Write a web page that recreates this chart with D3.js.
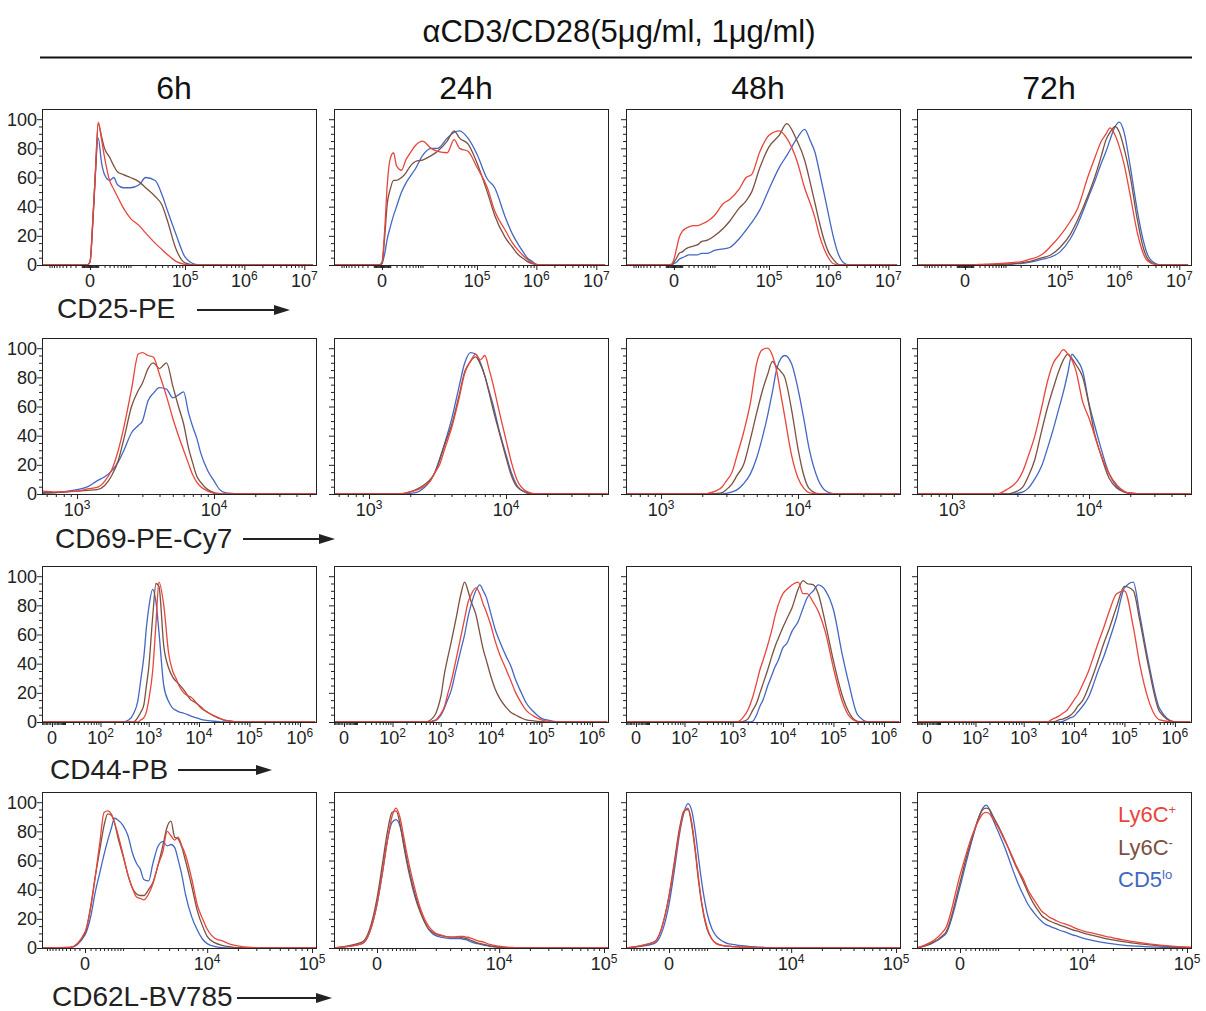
<!DOCTYPE html>
<html>
<head>
<meta charset="utf-8">
<script src="https://cdn.jsdelivr.net/npm/d3@7"></script>
<style>
  body { margin: 0; background: #fff; }
  svg { display: block; font-family: "Liberation Sans", Arial, sans-serif; }
  .frame { fill: none; stroke: #222; stroke-width: 1; }
  .axis path { display: none; }
  .axis line { stroke: #222; }
  .curve { fill: none; stroke-width: 1.3; stroke-linejoin: round; }
</style>
</head>
<body>
<svg id="chart" width="1206" height="1011"></svg>
<script>
const title = 'αCD3/CD28(5μg/ml, 1μg/ml)';
const timepoints = ['6h', '24h', '48h', '72h'];
const markers = ['CD25-PE', 'CD69-PE-Cy7', 'CD44-PB', 'CD62L-BV785'];
const groups = [['Ly6C', '+'], ['Ly6C', '-'], ['CD5', 'lo']];
const yLabels = [0, 20, 40, 60, 80, 100];

// x positions (fluorescence) shared by every curve of a row
const cd25Grid = [-14000, -3000, -1000, -300, 0, 300, 600, 1000, 1500, 2000, 3000, 4000, 5000, 7000, 1e4, 1.5e4, 2e4, 3e4, 4e4, 5e4, 7e4, 1e5, 1.5e5, 2e5, 3e5, 4e5, 5e5, 6e5, 7e5, 8.5e5, 1e6, 1.2e6, 1.5e6, 2e6, 2.5e6, 3e6, 4e6, 5e6, 1.4e7];
const cd69Grid = [560, 700, 1000, 1200, 1400, 1600, 1800, 2000, 2200, 2500, 2800, 3000, 3300, 3600, 4000, 4500, 5000, 5500, 6000, 6500, 7000, 7500, 8000, 9000, 10000, 11000, 12000, 14000, 16000, 18000, 20000, 25000, 30000, 55000];
const cd44Grid = [-7, 0, 50, 100, 200, 300, 400, 500, 600, 700, 800, 900, 1000, 1200, 1400, 1600, 2000, 2500, 3000, 3500, 4000, 5000, 6000, 7000, 8000, 10000, 12000, 15000, 20000, 25000, 30000, 40000, 50000, 70000, 100000, 150000, 200000, 300000, 500000, 1000000, 2000000];
const cd62lGrid = [-1200, -300, 0, 100, 200, 300, 400, 500, 600, 700, 800, 1000, 1200, 1400, 1600, 1800, 2000, 2300, 2600, 3000, 3400, 3800, 4200, 4600, 5000, 5500, 6000, 7000, 8000, 9000, 10000, 12000, 14000, 17000, 20000, 25000, 30000, 40000, 60000, 109000];

// % of max, one list per time point (6h, 24h, 48h, 72h)
const cd25Ly6cPos = [
  [0,0,0,0,2,30,62,98,86,74,58,52,47,39,32,27,22,15,10.5,7,2.5,0.5,0,0,0,0,0,0,0,0,0,0,0,0,0,0,0,0,0],
  [0,0,0,0,2,25,55,73,77,68,65,72,76,82,85,80,78,77,86,80,78,67,53,37,24,15,10,6.5,4,1.5,0.5,0,0,0,0,0,0,0,0],
  [0,0,0,0.5,4,12,19,23,25,26,27,27,28,30,34,42,45,52,60,62,78,89,92,87,71,53,42,32,21,11,5,1,0,0,0,0,0,0,0],
  [0,0,0,0,0,0,0,0,0.3,0.4,0.5,0.6,0.8,1,1.2,1.8,2.2,4,5.5,7.5,13,20,30,39,61,75,85,90,94,89,81,69,49,22,8,2.5,0.3,0,0]
];
const cd25Ly6cNeg = [
  [0,0,0,0,2,28,60,97,88,80,74,68,64,62,60,57,53,47,41,30,11,1.5,0,0,0,0,0,0,0,0,0,0,0,0,0,0,0,0,0],
  [0,0,0,0,1,20,42,52,58,58,60,63,67,71,72,75,78,85,92,87,83,70,50,34,19,12,7,4.5,2.5,1,0.3,0,0,0,0,0,0,0,0],
  [0,0,0,0,2,5,8,9,11,12,13,14,16,17,20,25,30,39,44,50,67,81,89,97,85,72,56,42,30,17,9,4,0.3,0,0,0,0,0,0],
  [0,0,0,0,0,0,0,0,0,0,0,0,0.3,0.5,0.7,1,1.5,2.5,4,5,7,12,21,31,48,62,75,86,91,95,91,80,62,31,12,4,0.5,0,0]
];
const cd25Cd5lo = [
  [0,0,0,0,2,30,62,87,70,62,58,60,55,53,53,55,60,58,48,37,21,5.5,0.5,0,0,0,0,0,0,0,0,0,0,0,0,0,0,0,0],
  [0,0,0,0,1,8,18,26,34,40,50,56,60,66,75,80,80,87,91,92,87,76,59,53,33,21,14,9,5,2.5,0.5,0,0,0,0,0,0,0,0],
  [0,0,0,0,1,2,4,5,6,7,7,7,8,8,10,11,12,18,24,29,38,52,67,75,87,93,85,77,65,49,35,20,6.5,0.5,0,0,0,0,0],
  [0,0,0,0,0,0,0,0,0,0,0,0,0,0,0,0.8,1,2,3,4,5.5,9,18,28,46,59,70,78,86,95,98,91,69,37,17,6.5,1,0,0]
];

const cd69Ly6cPos = [
  [2,1.5,2,3.5,4.5,9,17,30,46,72,96,97,95,94,82,67,52,40,30,21,13,8,5,2,0.5,0,0,0,0,0,0,0,0,0],
  [0,0,0,0,0,0,0.5,1.5,2.5,5,9,14,21,32,45,64,83,91,96,92,95,86,76,55,37,21,10,2,0.3,0,0,0,0,0],
  [0,0,0,0,0,0,0,0,0.5,2,5,9,15,27,42,63,90,99,100,95,84,68,53,26,11,4,1,0,0,0,0,0,0,0],
  [0,0,0,0,0,0,0,0,0.3,3,6,9,16,26,39,59,78,90,95,99,96,92,85,63,52,40,29,14,6,2,0.5,0,0,0]
];
const cd69Ly6cNeg = [
  [1,1,2,2.5,3,6,13,23,38,60,71,76,86,90,86,90,74,60,48,32,21,12,8,3,1,0.3,0,0,0,0,0,0,0,0],
  [0,0,0,0,0,0,0.5,1.5,3,6,10,14,24,35,47,66,84,91,94,89,81,70,59,41,25,12,5,1,0,0,0,0,0,0],
  [0,0,0,0,0,0,0,0,0,0.3,1,3,7,13,20,38,56,71,82,91,87,84,80,57,31,13,4,0.3,0,0,0,0,0,0],
  [0,0,0,0,0,0,0,0,0,0,1,2,5,12,23,43,60,73,84,92,96,93,89,80,61,41,29,11,4,1.5,0.5,0,0,0]
];
const cd69Cd5lo = [
  [0.5,1,3,5,9,12,16,22,30,42,47,50,64,69,73,72,66,68,70,56,46,38,28,16,9,3,1,0.3,0,0,0,0,0,0],
  [0,0,0,0,0,0,0,0.5,1,4,9,14,25,36,51,72,90,97,96,90,81,71,62,42,27,14,6,1,0,0,0,0,0,0],
  [0,0,0,0,0,0,0,0,0,0,0,0.5,1.5,3,7,14,25,39,54,70,86,93,95,89,72,52,32,10,2,0.3,0,0,0,0],
  [0,0,0,0,0,0,0,0,0,0,0,0.5,1.5,4,10,19,32,45,58,70,83,96,93,84,62,47,34,14,5,1.5,0.5,0,0,0]
];

const cd44Ly6cPos = [
  [0,0,0,0,0,0,0,0,0,1.5,3,7,15,35,68,96,80,47,35,30,25,20,18,17,15,11,8.5,6.5,4.3,2.8,1.7,0.7,0.3,0,0,0,0,0,0,0,0],
  [0,0,0,0,0,0,0,0,0,1,1.5,3.5,5.5,11,20,27,42,58,71,82,87,92,88,81,76,66,56,46,36,28,21,13,8,4,1.5,0.3,0,0,0,0,0],
  [0,0,0,0,0,0,0,0,0,0,0,0,0,0,1,3,8,17,27,36,42,53,63,73,80,88,91,94,96,88,88,82,76,61,37,14,4.5,0.3,0,0,0],
  [0,0,0,0,0,0,0,0,0,0,0,0,0,0,0,0,0,0,0,1.5,2.5,4,6,7.5,10,15,19,26,36,46,54,66,76,88,90,65,40,15,1.5,0,0]
];
const cd44Ly6cNeg = [
  [0,0,0,0,0,0,0,0,3,7,12,25,37,72,95,93,52,37,31,28,26,22,18,15,14,11.5,9,6.5,4,2.5,1.5,0.8,0.3,0,0,0,0,0,0,0,0],
  [0,0,0,0,0,0,0,0,1,3,6,11,17,34,45,54,70,87,96,90,83,74,61,50,43,31,23,16,10,6.5,5,2.8,1.5,0.8,0.3,0,0,0,0,0,0],
  [0,0,0,0,0,0,0,0,0,0,0,0,0,0,0,0.3,2,8,13,20,26,36,45,52,57,65,71,78,91,97,95,94,88,67,42,18,7,0.5,0,0,0],
  [0,0,0,0,0,0,0,0,0,0,0,0,0,0,0,0,0,0,0,0,0,1.5,2,3,4,7,11,15,25,34,42,55,64,79,93,90,70,38,7,0,0]
];
const cd44Cd5lo = [
  [0,0,0,0,0,0,1.5,6,14,30,45,65,78,91,82,62,25,14,9.5,8,7,6,5,4,3.3,2.3,1.5,1,0.5,0.2,0,0,0,0,0,0,0,0,0,0,0],
  [0,0,0,0,0,0,0,0,0,0.5,1,2.5,4.5,10,16,21,35,49,60,72,80,90,94,90,86,74,64,55,45,38,30,20,13,7,2.5,1,0.3,0,0,0,0],
  [0,0,0,0,0,0,0,0,0,0,0,0,0,0,0,0,0,0.5,5,11,15,25,32,38,42,51,54,62,69,78,85,90,94,90,77,46,27,5,0,0,0],
  [0,0,0,0,0,0,0,0,0,0,0,0,0,0,0,0,0,0,0,0,0,0,0.5,1.5,2.5,4,7,11,18,27,35,46,56,72,92,96,74,41,9,0,0]
];

const cd62lLy6cPos = [
  [0,0.5,11,27,50,73,93,94,92,86,79,64,50,41,35,34,33,37,44,57,66,80,77,74,76,70,64,47,29,20,13,6.5,5,2.5,1.5,0.5,0.2,0,0,0],
  [0,3,30,52,74,90,96,90,78,66,56,40,28,20,15,12,10,9,8,7.5,7.5,8,8,7.5,7,6,5,4,2.5,1.8,1.2,0.6,0.3,0,0,0,0,0,0,0],
  [0,4,35,58,80,93,96,86,68,48,32,14,6,3,2,1.5,1.2,1,0.8,0.6,0.5,0.4,0.3,0.2,0,0,0,0,0,0,0,0,0,0,0,0,0,0,0,0],
  [0,13,50,63,74,82,88,92,93,92,89,83,76,70,64,58,53,47,40,34,29,25,23,21,20,18.5,17.5,16,14.5,13,12,10.5,9.5,8,7,5.5,4.5,3.3,1.8,0.5]
];
const cd62lLy6cNeg = [
  [0,0.3,10,28,50,68,84,92,91,86,77,63,50,41,37,36,36,40,45,57,70,83,87,76,75,69,60,42,25,15,8,3.5,1.8,0.8,0.3,0,0,0,0,0],
  [0,4,34,58,80,93,94,86,72,60,50,35,25,18,13,11,9.5,8.5,8,7.5,7.5,7.5,7,6.5,5.5,4.5,3.5,2.5,1.5,1,0.6,0.3,0,0,0,0,0,0,0,0],
  [0,4,36,60,82,94,95,84,66,46,31,13,6,3,2,1.5,1.2,1,0.8,0.6,0.5,0.4,0.3,0.2,0,0,0,0,0,0,0,0,0,0,0,0,0,0,0,0],
  [0,10,45,60,72,82,90,95,96,95,91,84,77,70,63,57,52,45,38,31,26,22,20,18.5,17.5,16.5,15.5,14,12.5,11.5,10.5,9,8,6.5,5.5,4.3,3.5,2.5,1.3,0.3]
];
const cd62lCd5lo = [
  [0,0.3,9,21,39,52,64,74,82,89,88,84,77,65,58,54,47,46,58,70,73,70,71,69,61,50,37,21,12,6,3,1,0.3,0,0,0,0,0,0,0],
  [0,3,30,52,74,86,88,84,74,62,52,37,26,18,13,10,8.5,7.5,7,6.5,6.5,6.5,6,5.5,4.5,3.5,3,2,1.2,0.8,0.4,0,0,0,0,0,0,0,0,0],
  [0,3,30,54,78,93,99,94,80,62,46,24,13,8,5.5,4,3,2.5,2,1.6,1.3,1,0.8,0.6,0.5,0.3,0.2,0,0,0,0,0,0,0,0,0,0,0,0,0],
  [0,9,42,57,70,81,90,96,98,95,89,80,72,64,56,49,43,36,30,25,21,18,16,15,14,13,12,10.5,9,8,7,5.5,4.5,3.5,2.8,2,1.5,1,0.5,0]
];

// axis tick labels per row
const cd25TickLabels = [0, 1e5, 1e6, 1e7];
const cd69TickLabels = [1e3, 1e4];
const cd44TickLabels = [0, 1e2, 1e3, 1e4, 1e5, 1e6];
const cd62lTickLabels = [0, 1e4, 1e5];

const colors = ['#e8453c', '#7b5140', '#4367c2'];

const rows = [
  {grid: cd25Grid, series: [cd25Ly6cPos, cd25Ly6cNeg, cd25Cd5lo],
   axis: {type: 'symlog', constant: 2680, domain: [-14230, 1.567e7], labels: cd25TickLabels, minorExp: [2, 6]},
   labelX: 57, labelY: 318, arrow: [197, 290, 310]},
  {grid: cd69Grid, series: [cd69Ly6cPos, cd69Ly6cNeg, cd69Cd5lo],
   axis: {type: 'log', domain: [555, 55500], labels: cd69TickLabels, minorExp: [2, 4]},
   labelX: 55, labelY: 548, arrow: [243, 335, 539]},
  {grid: cd44Grid, series: [cd44Ly6cPos, cd44Ly6cNeg, cd44Cd5lo],
   axis: {type: 'symlog', constant: 12.3, domain: [-7.1, 2.08e6], labels: cd44TickLabels, minorExp: [0, 5]},
   labelX: 50, labelY: 779, arrow: [178, 272, 770]},
  {grid: cd62lGrid, series: [cd62lLy6cPos, cd62lLy6cNeg, cd62lCd5lo],
   axis: {type: 'symlog', constant: 800, domain: [-1200, 109000], labels: cd62lTickLabels, minorExp: [2, 4]},
   labelX: 52, labelY: 1006, arrow: [237, 332, 998]}
];

function translate(x, y) {
  return `translate(${x}, ${y})`;
}

function minorTicks(ax) {
  const out = [];
  for (let e = ax.minorExp[0]; e <= ax.minorExp[1]; e++) {
    for (let k = 1; k <= 9; k++) {
      const v = k * Math.pow(10, e);
      [v, -v].forEach(t => {
        if (t >= ax.domain[0] && t <= ax.domain[1] && !ax.labels.includes(t)) out.push(t);
      });
    }
  }
  return out;
}

const svg = d3.select('#chart');
const pw = 274, ph = 156;
const panelX = [42, 334, 626, 917];
const panelY = [109, 338, 566, 792];

svg.append('defs').append('clipPath').attr('id', 'plotClip')
  .append('rect').attr('x', 0).attr('y', -2).attr('width', pw).attr('height', ph + 3);

// ---------- title + column headers ----------
svg.append('text')
  .attr('x', 619).attr('y', 42)
  .attr('text-anchor', 'middle')
  .attr('font-size', 31)
  .attr('fill', '#111')
  .text(title);

svg.append('line')
  .attr('x1', 40).attr('x2', 1192)
  .attr('y1', 57.5).attr('y2', 57.5)
  .attr('stroke', '#111').attr('stroke-width', 2);

timepoints.forEach((tp, c) => {
  svg.append('text')
    .attr('x', panelX[c] + 132).attr('y', 99)
    .attr('text-anchor', 'middle')
    .attr('font-size', 32)
    .attr('fill', '#111')
    .text(tp);
});

const y = d3.scaleLinear().domain([0, 107]).range([ph, 0]);
const yMinor = d3.range(0, 101, 5).filter(v => v % 20 !== 0);

rows.forEach((row, r) => {
  const ax = row.axis;
  const x = (ax.type === 'log' ? d3.scaleLog() : d3.scaleSymlog().constant(ax.constant))
    .domain(ax.domain)
    .range([0, pw]);

  const line = d3.line()
    .x((d, i) => x(row.grid[i]))
    .y(d => y(d))
    .curve(d3.curveMonotoneX);

  timepoints.forEach((tp, c) => {
    const g = svg.append('g').attr('transform', translate(panelX[c], panelY[r]));

    // y ticks
    g.append('g').attr('class', 'axis')
      .call(d3.axisLeft(y).tickValues(yMinor).tickSize(3).tickFormat(''));
    g.append('g').attr('class', 'axis')
      .call(d3.axisLeft(y).tickValues(yLabels).tickSize(5).tickFormat(''));

    if (c === 0) {
      yLabels.forEach(v => {
        g.append('text')
          .attr('x', -5).attr('y', y(v))
          .attr('dy', '0.36em')
          .attr('text-anchor', 'end')
          .attr('font-size', 18)
          .attr('fill', '#222')
          .text(v);
      });
    }

    // x ticks
    const xa = g.append('g').attr('transform', translate(0, ph));
    xa.append('g').attr('class', 'axis')
      .call(d3.axisBottom(x).tickValues(minorTicks(ax)).tickSize(3).tickFormat(''));
    xa.append('g').attr('class', 'axis')
      .call(d3.axisBottom(x).tickValues(ax.labels).tickSize(5).tickFormat(''));

    ax.labels.forEach(v => {
      const t = g.append('text')
        .attr('x', x(v)).attr('y', ph + 22)
        .attr('text-anchor', 'middle')
        .attr('font-size', 18)
        .attr('fill', '#222');
      if (v === 0) {
        t.text('0');
      } else {
        t.append('tspan').text('10');
        t.append('tspan').attr('font-size', 12).attr('dy', -7).text(Math.round(Math.log10(v)));
      }
    });

    // histograms (red on top)
    [2, 1, 0].forEach(s => {
      g.append('path')
        .attr('class', 'curve')
        .attr('clip-path', 'url(#plotClip)')
        .attr('d', line(row.series[s][c]))
        .attr('stroke', colors[s]);
    });

    g.append('rect').attr('class', 'frame')
      .attr('x', 0.5).attr('y', 0.5)
      .attr('width', pw).attr('height', ph);
  });

  // row label with arrow
  svg.append('text')
    .attr('x', row.labelX).attr('y', row.labelY)
    .attr('font-size', 28)
    .attr('fill', '#222')
    .text(markers[r]);

  const [x1, x2, ay] = row.arrow;
  svg.append('line')
    .attr('x1', x1).attr('x2', x2 - 10)
    .attr('y1', ay).attr('y2', ay)
    .attr('stroke', '#222').attr('stroke-width', 2);
  svg.append('path')
    .attr('d', `M${x2},${ay} L${x2 - 16},${ay - 5} L${x2 - 16},${ay + 5} Z`)
    .attr('fill', '#222');
});

// legend inside the last panel
groups.forEach((grp, i) => {
  const t = svg.append('text')
    .attr('x', 1118).attr('y', 822 + i * 32.5)
    .attr('font-size', 22)
    .attr('fill', colors[i]);
  t.append('tspan').text(grp[0]);
  t.append('tspan').attr('font-size', 13).attr('dy', -8).text(grp[1]);
});
</script>
</body>
</html>
